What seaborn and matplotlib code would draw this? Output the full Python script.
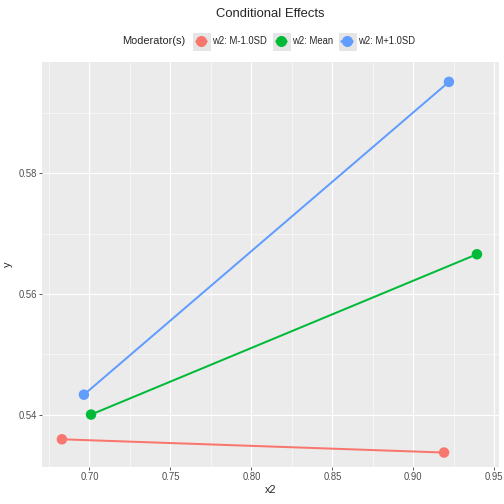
import pandas as pd
import seaborn as sns
import matplotlib.pyplot as plt
from matplotlib.ticker import MultipleLocator
from matplotlib.lines import Line2D
from matplotlib.legend_handler import HandlerTuple

# values
groups = ['w2: M-1.0SD', 'w2: Mean', 'w2: M+1.0SD']
x_low = [0.683, 0.701, 0.6966]
x_high = [0.919, 0.9393, 0.922]
y_low = [0.5359, 0.5400, 0.5433]
y_high = [0.5337, 0.5666, 0.5952]
colors = ['#F8766D', '#00BA38', '#619CFF']

df = pd.DataFrame({
    'group': groups + groups,
    'x2': x_low + x_high,
    'y': y_low + y_high,
})

sns.set_style('darkgrid', {'axes.facecolor': '#EBEBEB', 'grid.color': 'white'})
plt.rcParams['font.family'] = ['Liberation Sans', 'DejaVu Sans']

fig = plt.figure(figsize=(7, 7), dpi=72)
ax = fig.add_axes([0.0833, 0.0734, 0.907, 0.8036])

pal = dict(zip(groups, colors))
sns.lineplot(data=df, x='x2', y='y', hue='group', hue_order=groups,
             palette=pal, linewidth=2, legend=False, ax=ax, sort=True)
sns.scatterplot(data=df, x='x2', y='y', hue='group', hue_order=groups,
                palette=pal, s=110, edgecolor='none', legend=False, ax=ax, zorder=3)

ax.set_xlim(0.6707, 0.953)
ax.set_ylim(0.5313, 0.5985)
ax.xaxis.set_minor_locator(MultipleLocator(0.025))
ax.yaxis.set_minor_locator(MultipleLocator(0.01))
ax.set_xticks([0.70, 0.75, 0.80, 0.85, 0.90, 0.95])
ax.set_xticklabels(['0.70', '0.75', '0.80', '0.85', '0.90', '0.95'])
ax.set_yticks([0.54, 0.56, 0.58])
ax.set_yticklabels(['0.54', '0.56', '0.58'])
ax.grid(which='major', color='white', linewidth=1.1)
ax.grid(which='minor', color='white', linewidth=0.55)
ax.tick_params(which='major', length=3, width=0.8, color='#333333', labelsize=9.5,
               labelcolor='#4D4D4D', bottom=True, left=True, pad=2)
ax.tick_params(which='minor', length=0)
for s in ax.spines.values():
    s.set_visible(False)
ax.set_xlabel('x2', fontsize=11, labelpad=3)
ax.set_ylabel('y', fontsize=11, labelpad=6)

fig.text(0.5355, 0.973, 'Conditional Effects', ha='center', va='center', fontsize=13)
fig.text(0.242, 0.918, 'Moderator(s)', ha='left', va='center', fontsize=11)
handles = [(Line2D([0], [0], color='#E5E5E5', marker='s', markersize=17, linewidth=0),
            Line2D([0], [0], color=c, marker='o', markersize=10, linewidth=2.5))
           for c in colors]
fig.legend(handles, groups, loc='center left', bbox_to_anchor=(0.372, 0.918), ncol=3,
           frameon=False, fontsize=9.5, handlelength=1.1, handletextpad=0.6,
           columnspacing=0.9, handler_map={tuple: HandlerTuple(ndivide=1)})

fig.savefig('out.png', dpi=72)
